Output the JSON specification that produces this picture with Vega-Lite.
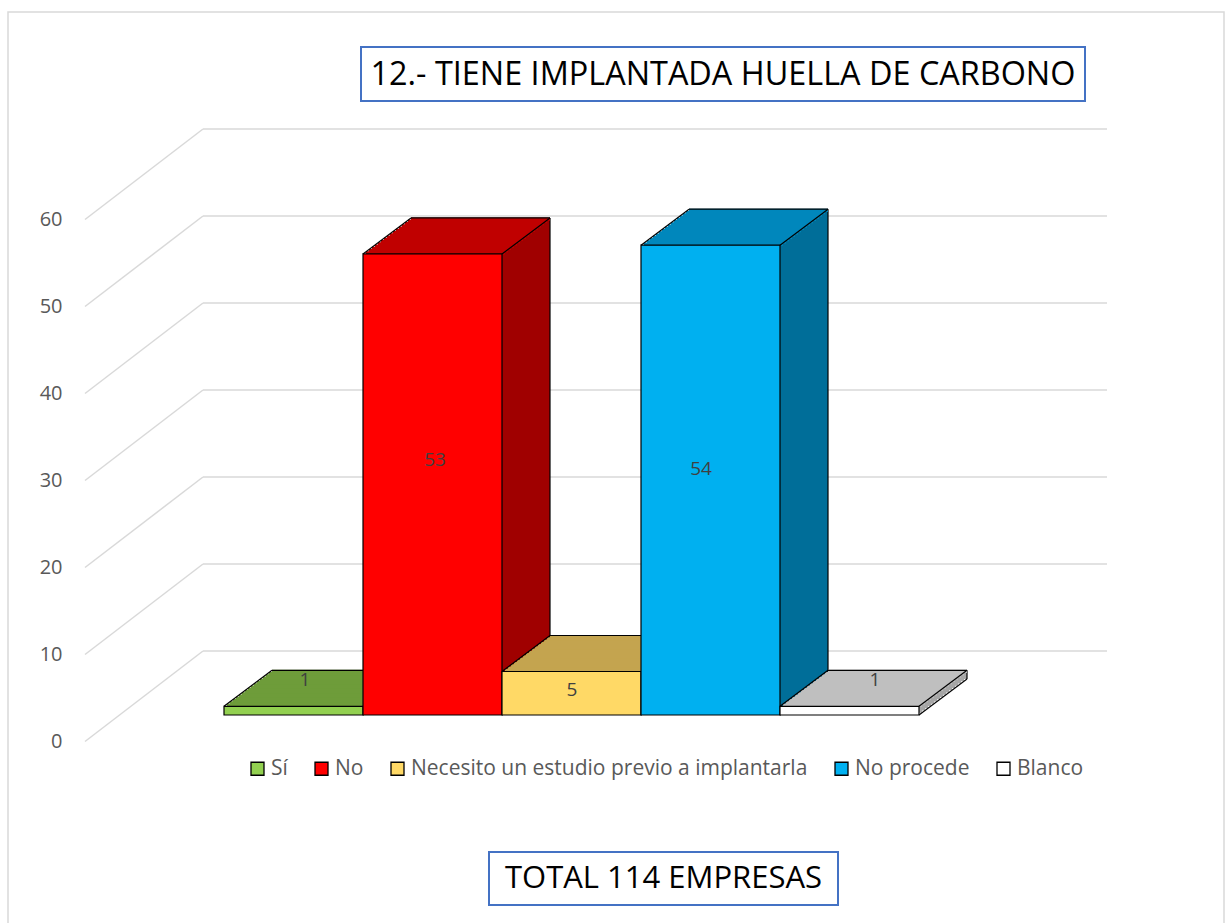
{
  "$schema": "https://vega.github.io/schema/vega-lite/v6.json",
  "autosize": {"type": "none"},
  "padding": {"left": 203, "top": 193, "right": 119, "bottom": 208},
  "width": 904,
  "height": 522,
  "background": "white",
  "config": {"view": {"stroke": null}},
  "datasets": {
    "bars": [
      {"cat": "Sí", "v": 1},
      {"cat": "No", "v": 53},
      {"cat": "Necesito un estudio previo a implantarla", "v": 5},
      {"cat": "No procede", "v": 54},
      {"cat": "Blanco", "v": 1}
    ],
    "grid": [{"g": 0}, {"g": 10}, {"g": 20}, {"g": 30}, {"g": 40}, {"g": 50}, {"g": 60}]
  },
  "layer": [
    {
      "data": {"values": [{}]},
      "mark": {"type": "rect", "fill": null, "stroke": "#D9D9D9", "strokeWidth": 1.5},
      "encoding": {"x": {"value": -195}, "x2": {"value": 1021}, "y": {"value": -181}, "y2": {"value": 745}}
    },
    {
      "data": {"values": [{}]},
      "mark": {"type": "rect", "fill": null, "stroke": "#4472C4", "strokeWidth": 2},
      "encoding": {"x": {"value": 158}, "x2": {"value": 882}, "y": {"value": -146}, "y2": {"value": -92}}
    },
    {
      "data": {"values": [{}]},
      "mark": {"type": "text", "text": "12.- TIENE IMPLANTADA HUELLA DE CARBONO", "font": "Open Sans", "fontSize": 32.4, "color": "#000000", "align": "center", "baseline": "middle"},
      "encoding": {"x": {"value": 520}, "y": {"value": -118}}
    },
    {
      "data": {"values": [{}]},
      "mark": {"type": "rect", "fill": null, "stroke": "#4472C4", "strokeWidth": 2},
      "encoding": {"x": {"value": 286}, "x2": {"value": 635}, "y": {"value": 659}, "y2": {"value": 712}}
    },
    {
      "data": {"values": [{}]},
      "mark": {"type": "text", "text": "TOTAL 114 EMPRESAS", "font": "Open Sans", "fontSize": 31, "color": "#000000", "align": "center", "baseline": "middle"},
      "encoding": {"x": {"value": 460.5}, "y": {"value": 686}}
    },
    {
      "data": {"name": "grid"},
      "mark": {"type": "rule", "color": "#D9D9D9", "strokeWidth": 1.5, "yOffset": -64},
      "encoding": {
        "x": {"value": 0},
        "x2": {"value": "width"},
        "y": {
          "field": "g",
          "type": "quantitative",
          "scale": {"domain": [0, 60], "nice": false, "zero": true},
          "axis": {
            "title": null,
            "values": [0, 10, 20, 30, 40, 50, 60],
            "domain": false,
            "ticks": false,
            "grid": false,
            "tickOffset": -64,
            "labelOffset": 90.5,
            "labelPadding": 141,
            "labelFont": "Open Sans",
            "labelFontSize": 20,
            "labelColor": "#595959"
          }
        }
      }
    },
    {
      "data": {"name": "grid"},
      "mark": {"type": "rule", "color": "#D9D9D9", "strokeWidth": 1.5, "yOffset": 26.5, "y2Offset": -64},
      "encoding": {
        "x": {"value": -118},
        "x2": {"value": 0},
        "y": {
          "field": "g",
          "type": "quantitative",
          "scale": {"domain": [0, 60], "nice": false, "zero": true},
          "axis": {
            "title": null,
            "values": [0, 10, 20, 30, 40, 50, 60],
            "domain": false,
            "ticks": false,
            "grid": false,
            "tickOffset": -64,
            "labelOffset": 90.5,
            "labelPadding": 141,
            "labelFont": "Open Sans",
            "labelFontSize": 20,
            "labelColor": "#595959"
          }
        },
        "y2": {"field": "g"}
      }
    },
    {
      "data": {"name": "bars"},
      "encoding": {
        "x": {
          "field": "cat",
          "type": "nominal",
          "sort": null,
          "scale": {"type": "band", "range": [21, 716], "paddingInner": 0, "paddingOuter": 0},
          "axis": null
        },
        "y": {
          "field": "v",
          "type": "quantitative",
          "scale": {"domain": [0, 60], "nice": false, "zero": true},
          "axis": {
            "title": null,
            "values": [0, 10, 20, 30, 40, 50, 60],
            "domain": false,
            "ticks": false,
            "grid": false,
            "tickOffset": -64,
            "labelOffset": 90.5,
            "labelPadding": 141,
            "labelFont": "Open Sans",
            "labelFontSize": 20,
            "labelColor": "#595959"
          }
        }
      },
      "resolve": {"scale": {"color": "independent"}},
      "layer": [
        {
          "encoding": {
            "y2": {"datum": 0},
            "color": {
              "field": "cat",
              "type": "nominal",
              "scale": {
                "domain": ["Sí", "No", "Necesito un estudio previo a implantarla", "No procede", "Blanco"],
                "range": ["#5A8A36", "#A00000", "#A88A3A", "#006E99", "#A6A6A6"]
              },
              "legend": null
            }
          },
          "layer": [
            {"mark": {"type": "bar", "xOffset": 48, "yOffset": -36, "y2Offset": -36}},
            {"mark": {"type": "bar", "xOffset": 45, "yOffset": -33.75, "y2Offset": -33.75}},
            {"mark": {"type": "bar", "xOffset": 42, "yOffset": -31.5, "y2Offset": -31.5}},
            {"mark": {"type": "bar", "xOffset": 39, "yOffset": -29.25, "y2Offset": -29.25}},
            {"mark": {"type": "bar", "xOffset": 36, "yOffset": -27, "y2Offset": -27}},
            {"mark": {"type": "bar", "xOffset": 33, "yOffset": -24.75, "y2Offset": -24.75}},
            {"mark": {"type": "bar", "xOffset": 30, "yOffset": -22.5, "y2Offset": -22.5}},
            {"mark": {"type": "bar", "xOffset": 27, "yOffset": -20.25, "y2Offset": -20.25}},
            {"mark": {"type": "bar", "xOffset": 24, "yOffset": -18, "y2Offset": -18}},
            {"mark": {"type": "bar", "xOffset": 21, "yOffset": -15.75, "y2Offset": -15.75}},
            {"mark": {"type": "bar", "xOffset": 18, "yOffset": -13.5, "y2Offset": -13.5}},
            {"mark": {"type": "bar", "xOffset": 15, "yOffset": -11.25, "y2Offset": -11.25}},
            {"mark": {"type": "bar", "xOffset": 12, "yOffset": -9, "y2Offset": -9}},
            {"mark": {"type": "bar", "xOffset": 9, "yOffset": -6.75, "y2Offset": -6.75}},
            {"mark": {"type": "bar", "xOffset": 6, "yOffset": -4.5, "y2Offset": -4.5}},
            {"mark": {"type": "bar", "xOffset": 3, "yOffset": -2.25, "y2Offset": -2.25}}
          ]
        },
        {
          "mark": {"type": "point", "shape": "M-1,0.75L1,-0.75", "size": 2304, "filled": false, "stroke": "#000000", "strokeWidth": 1.2, "opacity": 1, "xOffset": 93.5, "yOffset": -18},
          "encoding": {"y": {"datum": 0}}
        },
        {
          "mark": {"type": "rule", "color": "#000000", "strokeWidth": 1.2, "xOffset": 117.5, "yOffset": -36, "y2Offset": -36},
          "encoding": {"y2": {"datum": 0}}
        },
        {
          "encoding": {
            "y2": {"field": "v"},
            "color": {
              "field": "cat",
              "type": "nominal",
              "scale": {
                "domain": ["Sí", "No", "Necesito un estudio previo a implantarla", "No procede", "Blanco"],
                "range": ["#6E9C3A", "#C00000", "#C4A44F", "#0087BC", "#BFBFBF"]
              },
              "legend": null
            }
          },
          "layer": [
            {"mark": {"type": "bar", "xOffset": 3, "yOffset": -2.75, "y2Offset": 0.5}},
            {"mark": {"type": "bar", "xOffset": 6, "yOffset": -5, "y2Offset": -1.75}},
            {"mark": {"type": "bar", "xOffset": 9, "yOffset": -7.25, "y2Offset": -4}},
            {"mark": {"type": "bar", "xOffset": 12, "yOffset": -9.5, "y2Offset": -6.25}},
            {"mark": {"type": "bar", "xOffset": 15, "yOffset": -11.75, "y2Offset": -8.5}},
            {"mark": {"type": "bar", "xOffset": 18, "yOffset": -14, "y2Offset": -10.75}},
            {"mark": {"type": "bar", "xOffset": 21, "yOffset": -16.25, "y2Offset": -13}},
            {"mark": {"type": "bar", "xOffset": 24, "yOffset": -18.5, "y2Offset": -15.25}},
            {"mark": {"type": "bar", "xOffset": 27, "yOffset": -20.75, "y2Offset": -17.5}},
            {"mark": {"type": "bar", "xOffset": 30, "yOffset": -23, "y2Offset": -19.75}},
            {"mark": {"type": "bar", "xOffset": 33, "yOffset": -25.25, "y2Offset": -22}},
            {"mark": {"type": "bar", "xOffset": 36, "yOffset": -27.5, "y2Offset": -24.25}},
            {"mark": {"type": "bar", "xOffset": 39, "yOffset": -29.75, "y2Offset": -26.5}},
            {"mark": {"type": "bar", "xOffset": 42, "yOffset": -32, "y2Offset": -28.75}},
            {"mark": {"type": "bar", "xOffset": 45, "yOffset": -34.25, "y2Offset": -31}},
            {"mark": {"type": "bar", "xOffset": 48, "yOffset": -36.5, "y2Offset": -33.25}}
          ]
        },
        {
          "mark": {"type": "bar", "color": "#000000", "xOffset": 48, "yOffset": -36.6, "y2Offset": -35.4},
          "encoding": {"y2": {"field": "v"}}
        },
        {
          "mark": {"type": "point", "shape": "M-1,0.75L1,-0.75", "size": 2304, "filled": false, "stroke": "#000000", "strokeWidth": 1.2, "opacity": 1, "xOffset": 93.5, "yOffset": -18}
        },
        {
          "mark": {"type": "point", "shape": "M-1,0.75L1,-0.75", "size": 2304, "filled": false, "stroke": "#000000", "strokeWidth": 1.2, "opacity": 1, "xOffset": -45.5, "yOffset": -18}
        },
        {
          "mark": {"type": "bar", "stroke": "#000000", "strokeWidth": 1.2},
          "encoding": {
            "y2": {"datum": 0},
            "fill": {
              "field": "cat",
              "type": "nominal",
              "scale": {
                "domain": ["Sí", "No", "Necesito un estudio previo a implantarla", "No procede", "Blanco"],
                "range": ["#92D050", "#FF0000", "#FFD966", "#00B0F0", "#FFFFFF"]
              },
              "legend": {
                "orient": "none",
                "legendX": 44,
                "legendY": 565,
                "direction": "horizontal",
                "title": null,
                "padding": 0,
                "symbolType": "square",
                "symbolSize": 169,
                "symbolStrokeColor": "#000000",
                "symbolStrokeWidth": 1.3,
                "labelFont": "Open Sans",
                "labelFontSize": 21,
                "labelColor": "#595959",
                "labelOffset": 3,
                "labelLimit": 1000,
                "columnPadding": 23
              }
            }
          }
        },
        {
          "transform": [{"filter": "datum.cat == 'No'"}],
          "mark": {"type": "text", "font": "Open Sans", "fontSize": 19, "color": "#404040", "dx": 2.5, "dy": -24.5, "baseline": "middle"},
          "encoding": {"y": {"field": "v", "type": "quantitative", "stack": "zero", "bandPosition": 0.5}, "text": {"field": "v", "type": "quantitative"}}
        },
        {
          "transform": [{"filter": "datum.cat == 'No procede'"}],
          "mark": {"type": "text", "font": "Open Sans", "fontSize": 19, "color": "#404040", "dx": -9.5, "dy": -11, "baseline": "middle"},
          "encoding": {"y": {"field": "v", "type": "quantitative", "stack": "zero", "bandPosition": 0.5}, "text": {"field": "v", "type": "quantitative"}}
        },
        {
          "transform": [{"filter": "datum.cat == 'Necesito un estudio previo a implantarla'"}],
          "mark": {"type": "text", "font": "Open Sans", "fontSize": 19, "color": "#404040", "dx": 0.5, "dy": -3, "baseline": "middle"},
          "encoding": {"y": {"field": "v", "type": "quantitative", "stack": "zero", "bandPosition": 0.5}, "text": {"field": "v", "type": "quantitative"}}
        },
        {
          "transform": [{"filter": "datum.cat == 'Sí'"}],
          "mark": {"type": "text", "font": "Open Sans", "fontSize": 19, "color": "#404040", "dx": 11.5, "dy": -26, "baseline": "middle"},
          "encoding": {"text": {"field": "v", "type": "quantitative"}}
        },
        {
          "transform": [{"filter": "datum.cat == 'Blanco'"}],
          "mark": {"type": "text", "font": "Open Sans", "fontSize": 19, "color": "#404040", "dx": 25.5, "dy": -26, "baseline": "middle"},
          "encoding": {"text": {"field": "v", "type": "quantitative"}}
        }
      ]
    }
  ]
}
